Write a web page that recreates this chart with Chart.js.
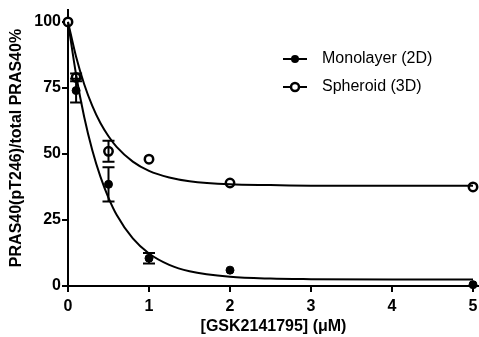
<!DOCTYPE html>
<html lang="en">
<head>
  <meta charset="UTF-8">
  <script src="https://cdn.jsdelivr.net/npm/chart.js"></script>
  <title>PRAS40</title>
  <style>
    body { margin: 0; background: #fff; }
    #wrap { width: 479px; height: 337px; position: relative; }
  </style>
</head>
<body>
  <div id="wrap"><canvas id="myChart"></canvas></div>
<script>
  // measured points
  const doseX = [0, 0.1, 0.5, 1, 2, 5];
  const mono = [100, 74, 38.5, 10.5, 6, 0.5];
  const monoErr = [0, 4.5, 6.5, 2, 0, 0];
  const sphere = [100, 79, 51, 48, 39, 37.5];
  const sphereErr = [0, 1.5, 4, 0, 0, 0];

  // fitted curves
  const curveX = [0, 0.1, 0.2, 0.3, 0.4, 0.5, 0.6, 0.8, 1, 1.25, 1.5, 2, 2.5, 3, 4, 5];
  const monoFit = [100, 80, 64, 51.4, 41.4, 33.4, 27, 18, 12.3, 8, 5.6, 3.5, 2.8, 2.6, 2.5, 2.5];
  const sphereFit = [100, 86.8, 76.4, 68.2, 61.7, 56.7, 52.7, 47.1, 43.6, 41.1, 39.7, 38.5, 38.2, 38, 38, 38];

  const xTicks = [0, 1, 2, 3, 4, 5];
  const yTicks = [0, 25, 50, 75, 100];
  const labels = ['Monolayer (2D)', 'Spheroid (3D)'];

  const FONT = '"Liberation Sans", Arial, sans-serif';

  function pts(xs, ys) {
    return xs.map((x, i) => ({ x: x, y: ys[i] }));
  }

  const errorBars = {
    id: 'errorBars',
    afterDatasetsDraw(chart) {
      const ctx = chart.ctx;
      const xs = chart.scales.x, ys = chart.scales.y;
      ctx.save();
      ctx.strokeStyle = '#000';
      ctx.lineWidth = 2;
      [[mono, monoErr], [sphere, sphereErr]].forEach(([vals, errs]) => {
        doseX.forEach((d, i) => {
          if (!errs[i]) return;
          const px = xs.getPixelForValue(d);
          const top = ys.getPixelForValue(vals[i] + errs[i]);
          const bot = ys.getPixelForValue(vals[i] - errs[i]);
          ctx.beginPath();
          ctx.moveTo(px, top); ctx.lineTo(px, bot);
          ctx.moveTo(px - 6, top); ctx.lineTo(px + 6, top);
          ctx.moveTo(px - 6, bot); ctx.lineTo(px + 6, bot);
          ctx.stroke();
        });
      });
      ctx.restore();
    }
  };

  const legendBox = {
    id: 'legendBox',
    afterDraw(chart) {
      const ctx = chart.ctx;
      ctx.save();
      labels.forEach((txt, i) => {
        const y = 59 + i * 28;
        ctx.strokeStyle = '#000';
        ctx.lineWidth = 2;
        ctx.beginPath();
        ctx.moveTo(283, y); ctx.lineTo(307, y);
        ctx.stroke();
        ctx.beginPath();
        ctx.arc(295, y, 4, 0, Math.PI * 2);
        if (i === 0) {
          ctx.fillStyle = '#000';
          ctx.fill();
        } else {
          ctx.fillStyle = '#fff';
          ctx.fill();
          ctx.lineWidth = 2.5;
          ctx.stroke();
        }
        ctx.fillStyle = '#000';
        ctx.font = '16px ' + FONT;
        ctx.textBaseline = 'middle';
        ctx.textAlign = 'left';
        ctx.fillText(txt, 322, y);
      });
      ctx.restore();
    }
  };

  const config = {
    type: 'scatter',
    data: {
      datasets: [
        {
          label: labels[0] + ' fit',
          data: pts(curveX, monoFit),
          showLine: true,
          borderColor: '#000',
          borderWidth: 2,
          pointRadius: 0,
          cubicInterpolationMode: 'monotone',
          clip: false
        },
        {
          label: labels[1] + ' fit',
          data: pts(curveX, sphereFit),
          showLine: true,
          borderColor: '#000',
          borderWidth: 2,
          pointRadius: 0,
          cubicInterpolationMode: 'monotone',
          clip: false
        },
        {
          label: labels[1],
          data: pts(doseX, sphere),
          pointRadius: 4.2,
          pointBackgroundColor: '#fff',
          pointBorderColor: '#000',
          pointBorderWidth: 2.5,
          clip: false
        },
        {
          label: labels[0],
          data: pts(doseX, mono),
          pointRadius: 4,
          pointBackgroundColor: '#000',
          pointBorderColor: '#000',
          pointBorderWidth: 1,
          clip: false
        }
      ]
    },
    options: {
      responsive: true,
      maintainAspectRatio: false,
      animation: false,
      layout: { autoPadding: false, padding: { top: 10, left: 0, right: 0, bottom: 0 } },
      plugins: {
        legend: { display: false },
        tooltip: { enabled: false }
      },
      scales: {
        x: {
          type: 'linear',
          min: 0,
          max: 5.074,
          afterBuildTicks: s => { s.ticks = xTicks.map(v => ({ value: v })); },
          afterFit: s => { s.height = 51; s.paddingLeft = 0; s.paddingRight = 0; },
          grid: { drawOnChartArea: false, drawTicks: true, tickLength: 6, color: '#000', lineWidth: 2 },
          border: { color: '#000', width: 2 },
          ticks: { color: '#000', padding: 5, font: { family: FONT, size: 16, weight: 'bold' } },
          title: {
            display: true,
            text: '[GSK2141795] (\u03bcM)',
            color: '#000',
            padding: { top: 0, bottom: 1 },
            font: { family: FONT, size: 16, weight: 'bold' }
          }
        },
        y: {
          min: 0,
          max: 104.5,
          afterBuildTicks: s => { s.ticks = yTicks.map(v => ({ value: v })); },
          afterFit: s => { s.width = 68; s.paddingTop = 0; s.paddingBottom = 0; },
          grid: { drawOnChartArea: false, drawTicks: true, tickLength: 6, color: '#000', lineWidth: 2 },
          border: { color: '#000', width: 2 },
          ticks: { color: '#000', padding: 1, font: { family: FONT, size: 16, weight: 'bold' } },
          title: {
            display: true,
            text: 'PRAS40(pT246)/total PRAS40%',
            color: '#000',
            padding: { top: 7, bottom: 0 },
            font: { family: FONT, size: 16, weight: 'bold' }
          }
        }
      }
    },
    plugins: [errorBars, legendBox]
  };

  const myChart = new Chart(document.getElementById('myChart'), config);
</script>
</body>
</html>
